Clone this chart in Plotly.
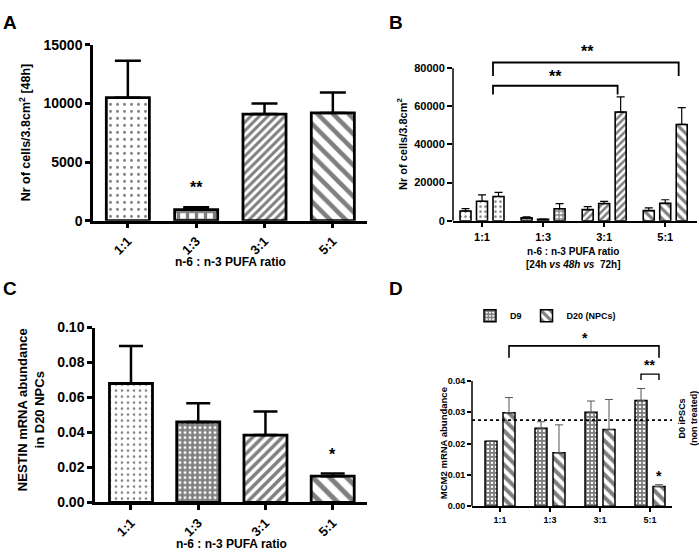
import plotly.graph_objects as go

W, H = 699, 558

def px(x):
    return x / W

def py(y):
    return 1 - y / H

# ---------------- data ----------------
cats = ["1:1", "1:3", "3:1", "5:1"]

# Panel A: cells at 48h
a_mean = [10500, 950, 9100, 9200]
a_top = [13650, 1150, 10000, 10950]

# Panel B: cells at 24h / 48h / 72h
b_24 = [5100, 1500, 5800, 5300]
b_24_top = [6300, 2000, 7400, 6700]
b_48 = [10200, 700, 9000, 9100]
b_48_top = [13600, 900, 10100, 11000]
b_72 = [12700, 6300, 57000, 50500]
b_72_top = [14900, 9000, 65000, 59300]

# Panel C: NESTIN mRNA in D20 NPCs
c_mean = [0.068, 0.046, 0.0385, 0.015]
c_top = [0.0895, 0.0567, 0.052, 0.0165]

# Panel D: MCM2 mRNA
d9 = [0.0208, 0.0249, 0.0300, 0.0338]
d9_top = [0.0208, 0.0270, 0.0336, 0.0376]
d20 = [0.0299, 0.0171, 0.0245, 0.0063]
d20_top = [0.0347, 0.0260, 0.0341, 0.0069]
d0_level = 0.0275

FONT = "Liberation Sans"

def errs(mean, top):
    return [t - m for m, t in zip(mean, top)]

fig = go.Figure()

# ---------- Panel A ----------
fig.add_trace(go.Bar(
    x=cats, y=a_mean, xaxis="x", yaxis="y", width=0.63,
    marker=dict(color="white", line=dict(color="black", width=2.8),
                pattern=dict(shape=[".", "+", "/", "\\"], size=[7, 9, 6, 11],
                             solidity=[0.14, 0.6, 0.5, 0.42], fgcolor="black", bgcolor="white")),
    error_y=dict(type="data", symmetric=False, array=errs(a_mean, a_top),
                 arrayminus=[0] * 4, color="black", thickness=2.5, width=13),
    showlegend=False))

# ---------- Panel B ----------
b_shapes = [".", "+", "/", "\\"]
for vals, tops, off in [(b_24, b_24_top, -0.36),
                        (b_48, b_48_top, -0.09),
                        (b_72, b_72_top, 0.18)]:
    fig.add_trace(go.Bar(
        x=cats, y=vals, xaxis="x2", yaxis="y2", width=0.18, offset=off,
        marker=dict(color="white", line=dict(color="black", width=1.6),
                    pattern=dict(shape=b_shapes, size=[5, 4, 5, 7], solidity=[0.2, 0.55, 0.5, 0.45],
                                 fgcolor="black", bgcolor="white")),
        error_y=dict(type="data", symmetric=False, array=errs(vals, tops),
                     arrayminus=[0] * 4, color="black", thickness=1.2, width=4),
        showlegend=False))

# ---------- Panel C ----------
fig.add_trace(go.Bar(
    x=cats, y=c_mean, xaxis="x3", yaxis="y3", width=0.64,
    marker=dict(color="white", line=dict(color="black", width=2.8),
                pattern=dict(shape=[".", "+", "/", "\\"], size=[6, 5, 7, 12],
                             solidity=[0.16, 0.72, 0.5, 0.42], fgcolor="black", bgcolor="white")),
    error_y=dict(type="data", symmetric=False, array=errs(c_mean, c_top),
                 arrayminus=[0] * 4, color="black", thickness=2.5, width=12),
    showlegend=False))

# ---------- Panel D ----------
fig.add_trace(go.Bar(
    x=cats, y=d9, xaxis="x4", yaxis="y4", width=0.24, offset=-0.30, name="D9",
    marker=dict(color="white", line=dict(color="black", width=1.5),
                pattern=dict(shape="+", size=4, solidity=0.7, fgcolor="black", bgcolor="white")),
    error_y=dict(type="data", symmetric=False, array=errs(d9, d9_top),
                 arrayminus=[0] * 4, color="#555555", thickness=1, width=4),
    showlegend=True))
fig.add_trace(go.Bar(
    x=cats, y=d20, xaxis="x4", yaxis="y4", width=0.24, offset=0.06, name="D20 (NPCs)",
    marker=dict(color="white", line=dict(color="black", width=1.5),
                pattern=dict(shape="\\", size=8, solidity=0.5, fgcolor="black", bgcolor="white")),
    error_y=dict(type="data", symmetric=False, array=errs(d20, d20_top),
                 arrayminus=[0] * 4, color="#555555", thickness=1, width=4),
    showlegend=True))

# ---------- axes ----------
def xax(domain, rng, size, angle, lw, tl):
    return dict(domain=domain, range=rng, type="category", showline=True, linecolor="black",
                linewidth=lw, ticks="outside", ticklen=tl, tickwidth=lw, tickcolor="black",
                tickangle=angle, tickfont=dict(size=size, family=FONT, weight="bold", color="black"),
                showgrid=False, zeroline=False, fixedrange=True)

def yax(domain, rng, tickvals, fmt, size, lw, tl, line=True):
    return dict(domain=domain, range=rng, showline=line, linecolor="black", linewidth=lw,
                ticks="outside", ticklen=tl, tickwidth=lw, tickcolor="black",
                tickvals=tickvals, tickformat=fmt,
                tickfont=dict(size=size, family=FONT, weight="bold", color="black"),
                showgrid=False, zeroline=False, fixedrange=True)

b_top_range = 90000
d_top_range = 0.056

fig.update_layout(
    xaxis=dict(xax([px(93), px(367)], [-0.51, 3.5], 13, -45, 2.5, 5), anchor="y"),
    yaxis=dict(yax([py(219), py(38)], [0, 15000], [0, 5000, 10000, 15000], "d", 14, 2.5, 5), anchor="x"),
    xaxis2=dict(xax([px(453), px(697)], [-0.475, 3.52], 11, 0, 1.5, 5), anchor="y2"),
    yaxis2=dict(yax([py(219), py(219 - 157 * b_top_range / 80000)], [0, b_top_range],
                    [0, 20000, 40000, 60000, 80000], "d", 11, 1.5, 5, line=False), anchor="x2"),
    xaxis3=dict(xax([px(95), px(367)], [-0.535, 3.51], 13, -45, 2.5, 5), anchor="y3"),
    yaxis3=dict(yax([py(509), py(329)], [0, 0.1], [0, 0.02, 0.04, 0.06, 0.08, 0.1], ".2f", 14, 2.5, 5), anchor="x3"),
    xaxis4=dict(xax([px(472), px(672)], [-0.56, 3.44], 9, 0, 1.5, 4), anchor="y4"),
    yaxis4=dict(yax([py(513), py(513 - 129 * d_top_range / 0.04)], [0, d_top_range],
                    [0, 0.01, 0.02, 0.03, 0.04], ".2f", 9, 1.5, 4, line=False), anchor="x4"),
    barmode="overlay",
    width=W, height=H, margin=dict(l=0, r=0, t=0, b=0),
    paper_bgcolor="white", plot_bgcolor="white",
    font=dict(family=FONT, color="black", weight="bold"),
    legend=dict(orientation="h", x=px(470), y=py(302), xanchor="left", yanchor="top",
                font=dict(size=9, family=FONT, weight="bold"), bgcolor="rgba(0,0,0,0)",
                itemwidth=30),
)

shapes = []
# manual y-axis lines for B and D (range extends above for brackets)
shapes.append(dict(type="line", xref="x2 domain", yref="y2", x0=0, x1=0, y0=0, y1=80000,
                   line=dict(color="black", width=1.5)))
shapes.append(dict(type="line", xref="x4 domain", yref="y4", x0=0, x1=0, y0=0, y1=0.04,
                   line=dict(color="black", width=1.5)))
# D0 reference dotted line
shapes.append(dict(type="line", xref="x4 domain", yref="y4", x0=0, x1=1, y0=d0_level, y1=d0_level,
                   line=dict(color="black", width=1.8, dash="dot")))

# significance brackets: (xref, yref, x0, x1, y_line, y_leg, width)
brackets = [
    ("x2", "y2", 0.18, 2.22, 70800, 66200, 1.8),
    ("x2", "y2", 0.18, 3.22, 83000, 75900, 1.8),
    ("x4", "y4", 0.18, 3.18, 0.0512, 0.0474, 1.6),
    ("x4", "y4", 2.82, 3.18, 0.0422, 0.0403, 1.4),
]
for xr, yr, x0, x1, yl, yg, lw in brackets:
    shapes.append(dict(type="path", xref=xr, yref=yr,
                       path=f"M {x0},{yg} L {x0},{yl} L {x1},{yl} L {x1},{yg}",
                       line=dict(color="black", width=lw)))
fig.update_layout(shapes=shapes)

ann = []
def text(x, y, s, size, xref="paper", yref="paper", angle=0, xanchor="center", yanchor="middle"):
    ann.append(dict(x=x, y=y, xref=xref, yref=yref, text=s, showarrow=False, textangle=angle,
                    xanchor=xanchor, yanchor=yanchor,
                    font=dict(size=size, family=FONT, color="black", weight="bold")))

# panel letters
text(px(1), py(2), "A", 19, xanchor="left", yanchor="top")
text(px(387), py(2), "B", 19, xanchor="left", yanchor="top")
text(px(1), py(276), "C", 19, xanchor="left", yanchor="top")
text(px(387), py(276), "D", 19, xanchor="left", yanchor="top")

# axis titles
text(px(25), py(128), "Nr of cells/3.8cm<sup>2</sup> [48h]", 12.5, angle=-90)
text(px(230), py(262), "n-6 : n-3 PUFA ratio", 12)
text(px(402), py(140), "Nr of cells/3.8cm<sup>2</sup>", 11, angle=-90)
text(px(573), py(257), "n-6 : n-3 PUFA ratio<br>[24h <i>vs 48h vs</i>  72h]", 10)
text(px(31), py(414), "NESTIN mRNA abundance<br>in D20 NPCs", 13, angle=-90)
text(px(231), py(552), "n-6 : n-3 PUFA ratio", 12)
text(px(443), py(448), "MCM2 mRNA abundance", 9.5, angle=-90)
text(px(688), py(423), "D0 iPSCs<br>(non treated)", 9, angle=-90)

# significance marks
text(1, 2800, "**", 16, xref="x", yref="y")
text(3, 0.0272, "*", 16, xref="x3", yref="y3")
text(1.2, 75900, "**", 16, xref="x2", yref="y2")
text(1.72, 88700, "**", 16, xref="x2", yref="y2")
text(1.7, 0.0536, "*", 14, xref="x4", yref="y4")
text(2.98, 0.0450, "**", 14, xref="x4", yref="y4")
text(3.18, 0.0096, "*", 14, xref="x4", yref="y4")

fig.update_layout(annotations=ann)

fig.write_html("out.html", config={"displayModeBar": False},
               post_script="document.body.style.margin='0';document.body.style.overflow='hidden';")
